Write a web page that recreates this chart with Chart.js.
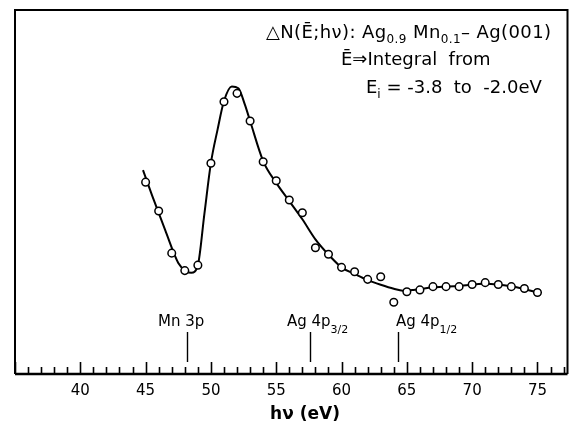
<!DOCTYPE html>
<html>
<head>
<meta charset="utf-8">
<script src="https://cdn.jsdelivr.net/npm/chart.js@4.4.1/dist/chart.umd.min.js"></script>
<style>
  html, body { margin: 0; padding: 0; background: #fff; }
</style>
</head>
<body>
<canvas id="chart" width="573" height="423"></canvas>
<script>
// measured points: photon energy (eV) and ΔN (arb. units)
const photonEnergy = [45, 46, 47, 48, 49, 50, 51, 52, 53, 54, 55, 56, 57, 58, 59, 60,
  61, 62, 63, 64, 65, 66, 67, 68, 69, 70, 71, 72, 73, 74, 75];
const deltaN = [52.7, 44.8, 33.2, 28.4, 29.9, 57.9, 74.8, 77.1, 69.5, 58.3, 53.1, 47.8, 44.3, 34.7, 32.9, 29.3,
  28.1, 26.0, 26.7, 19.7, 22.6, 23.1, 24.0, 24.0, 24.0, 24.6, 25.1, 24.6, 24.0, 23.5, 22.4];

// the drawn guide curve
const curveEnergy = [44.8, 45.5, 46.5, 47.5, 48.1, 48.5, 49, 49.5, 50, 50.5, 51, 51.6, 52.1, 52.6,
  53, 54, 55, 56, 57, 58, 59, 60, 61, 62, 63, 64, 64.7, 65.5, 67, 69, 71, 73, 75];
const curveDeltaN = [56, 49, 39.5, 30.5, 28.2, 27.8, 29.9, 44, 58, 67, 75, 79, 78.5, 74,
  69.5, 58.5, 52.5, 47.5, 42.5, 37, 32.8, 29.3, 27.5, 25.8, 24.5, 23.4, 22.9, 23.1, 23.8, 24.2, 24.8, 24.1, 22.4];

// core levels marked below the curve
const edgeEnergy = [48.2, 57.6, 64.3];
const edgeName = ['Mn 3p', 'Ag 4p', 'Ag 4p'];
const edgeSub = ['', '3/2', '1/2'];

const tickLabels = [40, 45, 50, 55, 60, 65, 70, 75];

const FONT = '"DejaVu Sans", sans-serif';

function drawRuns(ctx, x, y, runs) {
  runs.forEach(([txt, size, dy, weight]) => {
    ctx.font = (weight || 'normal') + ' ' + size + 'px ' + FONT;
    ctx.fillText(txt, x, y + dy);
    x += ctx.measureText(txt).width;
  });
}

const decorations = {
  id: 'decorations',
  afterDraw(chart) {
    const { ctx, chartArea: a } = chart;
    const xs = chart.scales.x;
    ctx.save();
    ctx.strokeStyle = '#000';
    ctx.fillStyle = '#000';

    // frame
    ctx.lineWidth = 2;
    ctx.beginPath();
    ctx.moveTo(a.left, a.bottom);
    ctx.lineTo(a.left, a.top);
    ctx.lineTo(a.right, a.top);
    ctx.lineTo(a.right, a.bottom);
    ctx.stroke();
    ctx.lineWidth = 2.5;
    ctx.beginPath();
    ctx.moveTo(a.left, a.bottom);
    ctx.lineTo(a.right, a.bottom);
    ctx.stroke();

    // inward tick marks, one per eV
    ctx.lineWidth = 1.6;
    for (let e = Math.ceil(xs.min); e <= Math.floor(xs.max); e++) {
      const px = Math.round(xs.getPixelForValue(e)) + 0.5;
      const len = e % 5 === 0 ? 12 : 7;
      ctx.beginPath();
      ctx.moveTo(px, a.bottom);
      ctx.lineTo(px, a.bottom - len);
      ctx.stroke();
    }

    // core level markers
    ctx.lineWidth = 1.4;
    ctx.textBaseline = 'alphabetic';
    edgeEnergy.forEach((e) => {
      const px = Math.round(xs.getPixelForValue(e)) + 0.5;
      ctx.beginPath();
      ctx.moveTo(px, 332);
      ctx.lineTo(px, 362);
      ctx.stroke();
    });
    drawRuns(ctx, 158, 326, [[edgeName[0], 15, 0]]);
    drawRuns(ctx, 287, 326, [[edgeName[1], 15, 0], [edgeSub[1], 11, 7]]);
    drawRuns(ctx, 396, 326, [[edgeName[2], 15, 0], [edgeSub[2], 11, 7]]);

    // legend text, top right
    ctx.letterSpacing = '0.4px';
    drawRuns(ctx, 266, 38, [['\u25B3N(\u0112;h\u03BD): Ag', 18, 0], ['0.9', 12, 5], [' Mn', 18, 0],
      ['0.1', 12, 5], ['\u2013 Ag(001)', 18, 0]]);
    ctx.letterSpacing = '0px';
    drawRuns(ctx, 341, 65, [['\u0112\u21D2Integral  from', 18, 0]]);
    drawRuns(ctx, 366, 93, [['E', 18, 0], ['i', 12, 5], [' = -3.8  to  -2.0eV', 18, 0]]);

    // axis title
    ctx.textAlign = 'center';
    ctx.font = 'bold 17px ' + FONT;
    ctx.fillText('h\u03BD (eV)', 305, 419);
    ctx.restore();
  }
};

new Chart(document.getElementById('chart'), {
  type: 'scatter',
  data: {
    datasets: [
      {
        label: 'ΔN',
        data: photonEnergy.map((e, i) => ({ x: e, y: deltaN[i] })),
        showLine: false,
        pointRadius: 3.8,
        pointBackgroundColor: '#fff',
        pointBorderColor: '#000',
        pointBorderWidth: 1.5,
      },
      {
        label: 'curve',
        data: curveEnergy.map((e, i) => ({ x: e, y: curveDeltaN[i] })),
        showLine: true,
        borderColor: '#000',
        borderWidth: 2,
        pointRadius: 0,
        cubicInterpolationMode: 'monotone',
      },
    ],
  },
  options: {
    responsive: false,
    animation: false,
    devicePixelRatio: 1,
    layout: { padding: { left: 15, right: 5, top: 10, bottom: 0 } },
    plugins: { legend: { display: false }, tooltip: { enabled: false } },
    scales: {
      x: {
        type: 'linear',
        min: 35,
        max: 77.3,
        grid: { display: false, drawTicks: false },
        border: { display: false },
        afterFit(scale) { scale.height = 49; },
        ticks: {
          stepSize: 5,
          includeBounds: false,
          autoSkip: false,
          maxRotation: 0,
          padding: 8,
          color: '#000',
          font: { family: FONT, size: 15 },
          callback: (v) => (tickLabels.includes(v) ? String(v) : ''),
        },
      },
      y: { display: false, min: 0, max: 100 },
    },
  },
  plugins: [decorations],
});
</script>
</body>
</html>
